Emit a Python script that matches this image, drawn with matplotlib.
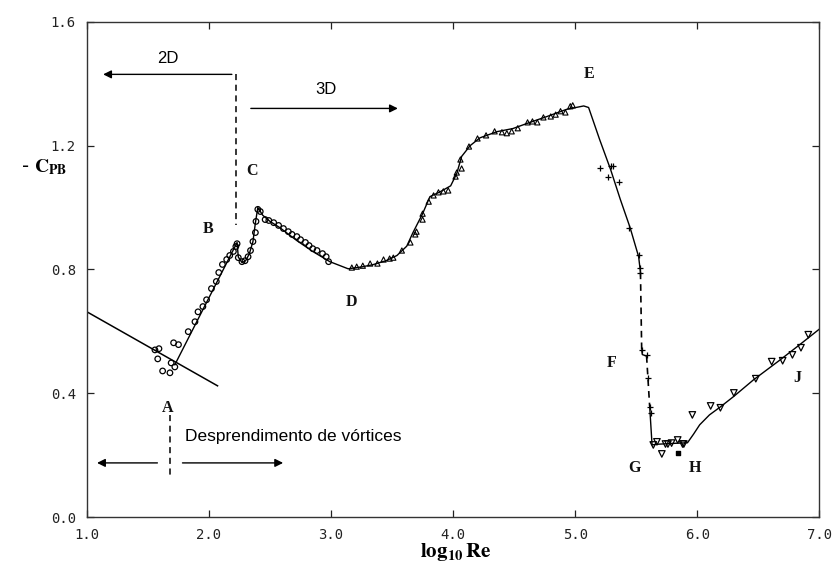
import numpy as np
import matplotlib.pyplot as plt

plt.rcParams['mathtext.fontset'] = 'stix'

# datos leidos del grafico
# recta de la rama laminar (A)
recta_x = [1.0, 2.07]
recta_y = [0.663, 0.424]

# curva principal A -> B -> C -> D -> E -> caida
curva_x = [1.72, 2.23, 2.24, 2.27, 2.30, 2.33, 2.36, 2.38, 2.40, 2.44, 2.50, 2.58, 2.72, 2.85,
           2.99, 3.14, 3.25, 3.34, 3.45, 3.54, 3.62, 3.67, 3.75, 3.81, 3.89, 3.98, 4.03, 4.07,
           4.14, 4.22, 4.36, 4.49, 4.63, 4.77, 4.93, 5.07, 5.11, 5.20, 5.29, 5.37, 5.45, 5.52, 5.535]
curva_y = [0.492, 0.887, 0.84, 0.822, 0.828, 0.85, 0.89, 0.95, 1.0, 0.975, 0.955, 0.935, 0.893, 0.858,
           0.825, 0.802, 0.808, 0.815, 0.828, 0.845, 0.875, 0.918, 0.98, 1.035, 1.05, 1.07, 1.11, 1.165,
           1.20, 1.225, 1.245, 1.255, 1.275, 1.294, 1.317, 1.328, 1.323, 1.22, 1.123, 1.026, 0.935, 0.841, 0.79]

# tramos discontinuos de la crisis (E -> G)
disc1_x = [5.535, 5.545]
disc1_y = [0.79, 0.54]
gancho_x = [5.545, 5.55, 5.585]
gancho_y = [0.54, 0.525, 0.52]
disc2_x = [5.585, 5.61]
disc2_y = [0.52, 0.36]

# curva G -> H -> J
final_x = [5.61, 5.63, 5.66, 5.80, 5.92, 5.97, 6.02, 6.10, 6.19, 6.30, 6.46, 6.68, 6.84, 7.0]
final_y = [0.36, 0.233, 0.235, 0.238, 0.24, 0.268, 0.298, 0.33, 0.356, 0.39, 0.443, 0.508, 0.557, 0.607]

# circulos (A - D)
circ_x = [1.557, 1.59, 1.58, 1.62, 1.68, 1.69, 1.72, 1.71, 1.75, 1.83, 1.885, 1.91, 1.95, 1.98,
          2.02, 2.06, 2.08, 2.11, 2.145, 2.17, 2.20, 2.22, 2.23, 2.24, 2.27, 2.295, 2.32, 2.34,
          2.36, 2.38, 2.385, 2.40, 2.42, 2.46, 2.49, 2.53, 2.57, 2.61, 2.65, 2.68, 2.72, 2.75,
          2.79, 2.82, 2.85, 2.885, 2.93, 2.96, 2.98]
circ_y = [0.540, 0.544, 0.511, 0.472, 0.466, 0.498, 0.485, 0.563, 0.557, 0.599, 0.631, 0.663, 0.68,
          0.702, 0.738, 0.761, 0.79, 0.816, 0.832, 0.845, 0.858, 0.874, 0.883, 0.838, 0.825, 0.828,
          0.841, 0.861, 0.89, 0.919, 0.955, 0.994, 0.987, 0.961, 0.958, 0.951, 0.942, 0.932, 0.922,
          0.913, 0.906, 0.896, 0.887, 0.877, 0.867, 0.861, 0.851, 0.841, 0.825]

# triangulos (D - E)
tri_x = [3.17, 3.21, 3.26, 3.32, 3.38, 3.43, 3.48, 3.51, 3.58, 3.65, 3.69, 3.70, 3.75, 3.75,
         3.80, 3.84, 3.88, 3.92, 3.96, 4.02, 4.03, 4.07, 4.06, 4.13, 4.20, 4.27, 4.34, 4.40,
         4.44, 4.48, 4.53, 4.61, 4.65, 4.69, 4.74, 4.80, 4.84, 4.88, 4.92, 4.96, 4.98]
tri_y = [0.806, 0.809, 0.812, 0.819, 0.819, 0.832, 0.835, 0.838, 0.861, 0.887, 0.913, 0.922, 0.961,
         0.98, 1.019, 1.039, 1.049, 1.052, 1.055, 1.10, 1.113, 1.126, 1.155, 1.197, 1.223, 1.233,
         1.246, 1.243, 1.24, 1.246, 1.256, 1.275, 1.278, 1.275, 1.291, 1.294, 1.30, 1.311, 1.307,
         1.327, 1.33]

# cruces (E - F)
cruz_x = [5.20, 5.29, 5.31, 5.27, 5.36, 5.44, 5.52, 5.53, 5.53, 5.55, 5.59, 5.60, 5.61, 5.62]
cruz_y = [1.126, 1.133, 1.133, 1.097, 1.081, 0.935, 0.848, 0.806, 0.79, 0.54, 0.524, 0.45, 0.356, 0.337]

# triangulos invertidos (G - J)
inv_x = [5.64, 5.67, 5.71, 5.74, 5.76, 5.79, 5.84, 5.88, 5.89, 5.96, 6.11, 6.19, 6.30, 6.48,
         6.61, 6.70, 6.78, 6.85, 6.91]
inv_y = [0.233, 0.243, 0.204, 0.236, 0.236, 0.239, 0.249, 0.236, 0.236, 0.33, 0.359, 0.353, 0.401,
         0.447, 0.502, 0.505, 0.524, 0.547, 0.589]
cuad_x = [5.84]
cuad_y = [0.207]

letras = ['A', 'B', 'C', 'D', 'E', 'F', 'G', 'H', 'J']
letras_x = [1.66, 1.99, 2.35, 3.17, 5.11, 5.30, 5.49, 5.98, 6.82]
letras_y = [0.353, 0.929, 1.117, 0.696, 1.43, 0.498, 0.159, 0.159, 0.45]

fig = plt.figure(figsize=(8.36, 5.72), dpi=100)
ax = fig.add_axes([0.104, 0.096, 0.876, 0.866])

ax.plot(recta_x, recta_y, color='black', lw=1.1)
ax.plot(curva_x, curva_y, color='black', lw=1.0)
ax.plot(disc1_x, disc1_y, color='black', lw=1.2, ls=(0, (4, 3)))
ax.plot(gancho_x, gancho_y, color='black', lw=1.0)
ax.plot(disc2_x, disc2_y, color='black', lw=1.2, ls=(0, (4, 3)))
ax.plot(final_x, final_y, color='black', lw=1.0)

ax.scatter(circ_x, circ_y, s=16, facecolors='none', edgecolors='black', linewidths=0.9, zorder=3)
ax.scatter(tri_x, tri_y, s=14, marker='^', facecolors='none', edgecolors='black', linewidths=0.8, zorder=3)
ax.scatter(cruz_x, cruz_y, s=14, marker='+', color='black', linewidths=0.9, zorder=3)
ax.scatter(inv_x, inv_y, s=22, marker='v', facecolors='none', edgecolors='black', linewidths=0.9, zorder=3)
ax.scatter(cuad_x, cuad_y, s=8, marker='s', color='black', zorder=3)

for t, x, y in zip(letras, letras_x, letras_y):
    ax.text(x, y, t, family='Liberation Serif', fontweight='bold', fontsize=11.5,
            ha='center', va='center', color='#111111')

# anotaciones 2D / 3D
ax.annotate('', xy=(1.11, 1.43), xytext=(2.21, 1.43),
            arrowprops=dict(arrowstyle='-|>', color='black', lw=1.0, mutation_scale=12))
ax.text(1.66, 1.48, '2D', family='Liberation Sans', fontsize=12, ha='center', va='center')
ax.plot([2.22, 2.22], [1.43, 0.945], color='black', lw=1.1, ls=(0, (4, 3)))
ax.annotate('', xy=(3.57, 1.32), xytext=(2.32, 1.32),
            arrowprops=dict(arrowstyle='-|>', color='black', lw=1.0, mutation_scale=12))
ax.text(2.96, 1.38, '3D', family='Liberation Sans', fontsize=12, ha='center', va='center')

# desprendimiento de vortices
ax.plot([1.68, 1.68], [0.33, 0.126], color='black', lw=1.1, ls=(0, (4, 3)))
ax.annotate('', xy=(1.06, 0.175), xytext=(1.60, 0.175),
            arrowprops=dict(arrowstyle='-|>', color='black', lw=1.0, mutation_scale=12))
ax.annotate('', xy=(2.63, 0.175), xytext=(1.76, 0.175),
            arrowprops=dict(arrowstyle='-|>', color='black', lw=1.0, mutation_scale=12))
ax.text(1.80, 0.259, 'Desprendimento de vórtices', family='Liberation Sans', fontsize=12.5,
        ha='left', va='center')

ax.set_xlim(1.0, 7.0)
ax.set_ylim(0.0, 1.6)
ax.set_xticks(np.arange(1, 8, 1))
ax.set_yticks(np.arange(0, 1.7, 0.4))
ax.set_xticklabels(['1.0', '2.0', '3.0', '4.0', '5.0', '6.0', '7.0'])
ax.set_yticklabels(['0.0', '0.4', '0.8', '1.2', '1.6'])
ax.tick_params(direction='in', length=5, width=0.9, top=True, right=True, pad=8,
               labelsize=10, colors='#222222')
for lab in ax.get_xticklabels() + ax.get_yticklabels():
    lab.set_family('DejaVu Sans Mono')
for s in ax.spines.values():
    s.set_color('#333333')
    s.set_linewidth(1.0)

fig.text(0.025, 0.707, r'- $\mathbf{C_{PB}}$', fontsize=14, ha='left', va='center')
fig.text(0.545, 0.035, r'$\mathbf{log_{10}\,Re}$', fontsize=15, ha='center', va='center')

plt.savefig('out.png', dpi=100)
